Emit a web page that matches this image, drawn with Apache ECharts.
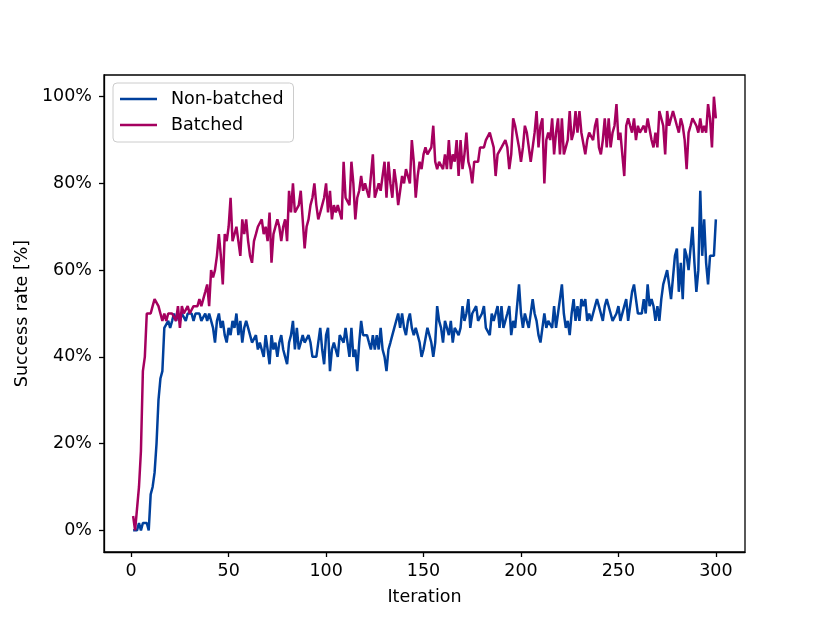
<!DOCTYPE html>
<html>
<head>
<meta charset="utf-8">
<script src="https://cdn.jsdelivr.net/npm/echarts@6/dist/echarts.min.js"></script>
<style>
  html, body { margin: 0; padding: 0; background: #fff; }
  #chart { width: 830px; height: 622px; }
</style>
</head>
<body>
<div id="chart"></div>
<script>
// success rate per iteration (%)
var batched = [
    3.3, 0, 5, 10, 18.3, 36.7, 40, 50, 50, 50,
    51.7, 53.3, 53.3, 51.7, 50, 48.3, 50, 48.3, 50, 50,
    50, 50, 48.3, 51.7, 46.7, 51.7, 50, 50, 51.7, 50,
    50, 51.7, 51.7, 51.7, 53.3, 51.7, 51.7, 55, 56.7, 51.7,
    60, 58.3, 60, 63.3, 68.3, 63.3, 56.7, 68.3, 66.7, 70,
    76.7, 66.7, 68.3, 70, 66.7, 63.3, 71.7, 68.3, 71.7, 66.7,
    63.3, 61.7, 66.7, 68.3, 70, 70, 71.7, 68.3, 70, 66.7,
    73.3, 61.7, 68.3, 68.3, 71.7, 70, 66.7, 70, 71.7, 66.7,
    78.3, 73.3, 80, 73.3, 73.3, 75, 78.3, 71.7, 65, 70,
    71.7, 75, 76.7, 80, 75, 71.7, 73.3, 75, 76.7, 80,
    73.3, 78.3, 71.7, 75, 73.3, 75, 73.3, 71.7, 85, 76.7,
    76.7, 75, 85, 80, 71.7, 76.7, 78.3, 81.7, 78.3, 80,
    78.3, 76.7, 76.7, 86.7, 76.7, 78.3, 80, 78.3, 81.7, 85,
    76.7, 85, 80, 76.7, 83.3, 80, 75, 78.3, 81.7, 80,
    83.3, 81.7, 80, 90, 85, 76.7, 81.7, 85, 83.3, 86.7,
    88.3, 86.7, 86.7, 88.3, 93.3, 85, 83.3, 85, 85, 83.3,
    86.7, 83.3, 90, 83.3, 86.7, 85, 90, 81.7, 90, 83.3,
    86.7, 91.7, 85, 83.3, 80, 85, 85, 85, 88.3, 88.3,
    88.3, 90, 90, 91.7, 90, 88.3, 81.7, 86.7, 86.7, 88.3,
    88.3, 90, 88.3, 83.3, 86.7, 95, 93.3, 93.3, 88.3, 85,
    88.3, 93.3, 91.7, 91.7, 85, 88.3, 91.7, 96.7, 88.3, 93.3,
    95, 80, 90, 91.7, 90, 95, 86.7, 91.7, 95, 86.7,
    95, 86.7, 88.3, 90, 96.7, 90, 91.7, 96.7, 91.7, 96.7,
    91.7, 91.7, 86.7, 90, 91.7, 91.7, 90, 93.3, 95, 88.3,
    86.7, 90, 95, 88.3, 95, 88.3, 91.7, 93.3, 98.3, 90,
    91.7, 91.7, 81.7, 93.3, 95, 93.3, 91.7, 95, 90, 93.3,
    91.7, 91.7, 93.3, 91.7, 95, 95, 90, 88.3, 91.7, 88.3,
    96.7, 96.7, 93.3, 86.7, 96.7, 93.3, 93.3, 96.7, 95, 93.3,
    91.7, 95, 93.3, 90, 83.3, 91.7, 93.3, 95, 95, 93.3,
    91.7, 95, 91.7, 93.3, 91.7, 98.3, 95, 88.3, 100, 95
];
var nonBatched = [
    0, 0, 0, 1.7, 0, 1.7, 1.7, 1.7, 0, 8.3,
    10, 13.3, 20, 30, 35, 36.7, 46.7, 46.7, 48.3, 46.7,
    48.3, 50, 48.3, 50, 48.3, 50, 50, 48.3, 50, 50,
    50, 48.3, 50, 50, 50, 48.3, 48.3, 50, 48.3, 50,
    50, 46.7, 43.3, 48.3, 50, 46.7, 48.3, 45, 43.3, 46.7,
    45, 48.3, 46.7, 50, 45, 48.3, 43.3, 46.7, 48.3, 46.7,
    45, 43.3, 43.3, 45, 41.7, 43.3, 43.3, 40, 45, 41.7,
    38.3, 45, 41.7, 43.3, 40, 43.3, 45, 41.7, 40, 38.3,
    43.3, 45, 48.3, 41.7, 46.7, 41.7, 43.3, 45, 43.3, 43.3,
    45, 43.3, 40, 40, 40, 40, 46.7, 41.7, 38.3, 45,
    46.7, 36.7, 41.7, 43.3, 43.3, 40, 45, 45, 43.3, 46.7,
    43.3, 40, 46.7, 40, 41.7, 36.7, 43.3, 48.3, 45, 45,
    45, 43.3, 41.7, 45, 41.7, 45, 41.7, 46.7, 41.7, 40,
    36.7, 41.7, 43.3, 45, 46.7, 46.7, 50, 46.7, 50, 46.7,
    45, 48.3, 50, 46.7, 45, 46.7, 45, 43.3, 40, 41.7,
    41.7, 46.7, 46.7, 43.3, 40, 43.3, 51.7, 48.3, 46.7, 43.3,
    48.3, 46.7, 45, 48.3, 43.3, 46.7, 46.7, 45, 46.7, 51.7,
    48.3, 50, 53.3, 46.7, 50, 50, 51.7, 48.3, 48.3, 50,
    51.7, 46.7, 46.7, 45, 50, 48.3, 50, 51.7, 46.7, 51.7,
    46.7, 46.7, 50, 51.7, 45, 48.3, 46.7, 46.7, 56.7, 50,
    46.7, 50, 48.3, 46.7, 46.7, 53.3, 50, 48.3, 45, 43.3,
    46.7, 50, 46.7, 48.3, 48.3, 46.7, 51.7, 46.7, 50, 50,
    56.7, 50, 46.7, 48.3, 45, 50, 53.3, 48.3, 51.7, 48.3,
    53.3, 51.7, 53.3, 48.3, 50, 48.3, 50, 51.7, 53.3, 51.7,
    50, 48.3, 51.7, 53.3, 53.3, 50, 48.3, 48.3, 50, 51.7,
    48.3, 48.3, 51.7, 53.3, 48.3, 51.7, 55, 56.7, 53.3, 50,
    50, 50, 53.3, 50, 56.7, 51.7, 53.3, 51.7, 48.3, 51.7,
    48.3, 53.3, 56.7, 56.7, 60, 56.7, 53.3, 58.3, 63.3, 65,
    55, 61.7, 53.3, 65, 63.3, 60, 60, 70, 61.7, 55,
    60, 78.3, 63.3, 71.7, 61.7, 56.7, 63.3, 63.3, 63.3, 71.7
];
var xTicks = [0, 50, 100, 150, 200, 250, 300];
var yTicks = [0, 20, 40, 60, 80, 100];

// iteration numbers start at 1
function toPairs(arr) {
    return arr.map(function (v, i) { return [i + 1, v]; });
}

var font = 'DejaVu Sans';
var chart = echarts.init(document.getElementById('chart'), null, {renderer: 'canvas'});

var option = {
    animation: false,
    backgroundColor: '#fff',
    textStyle: {fontFamily: font},
    grid: {
        left: 104, right: 85, top: 75, bottom: 70,
        show: true,
        borderColor: '#000',
        borderWidth: 1.3,
        backgroundColor: 'transparent'
    },
    legend: {
        left: 113, top: 83,
        orient: 'vertical',
        data: ['Non-batched', 'Batched'],
        icon: 'rect',
        itemWidth: 37,
        itemHeight: 2.6,
        itemGap: 6,
        padding: [6, 10, 7, 7],
        borderColor: '#cccccc',
        borderWidth: 1,
        borderRadius: 4,
        backgroundColor: 'rgba(255,255,255,0.85)',
        textStyle: {
            fontFamily: font, fontSize: 17.5, color: '#000',
            lineHeight: 20, padding: [0, 0, 0, 9]
        }
    },
    xAxis: {
        type: 'value',
        min: -13.95,
        max: 314.95,
        name: 'Iteration',
        nameLocation: 'middle',
        nameGap: 36,
        nameTextStyle: {fontFamily: font, fontSize: 17.5, color: '#000'},
        splitLine: {show: false},
        axisLine: {show: true, onZero: false, lineStyle: {color: '#000', width: 1.3}},
        axisTick: {
            show: true, length: 5, customValues: xTicks,
            lineStyle: {color: '#000', width: 1.3}
        },
        axisLabel: {
            customValues: xTicks, margin: 10,
            fontFamily: font, fontSize: 17.5, color: '#000'
        }
    },
    yAxis: {
        type: 'value',
        min: -5,
        max: 105,
        name: 'Success rate [%]',
        nameLocation: 'middle',
        nameGap: 70,
        nameTextStyle: {fontFamily: font, fontSize: 17.5, color: '#000'},
        splitLine: {show: false},
        axisLine: {show: true, onZero: false, lineStyle: {color: '#000', width: 1.3}},
        axisTick: {
            show: true, length: 5, customValues: yTicks,
            lineStyle: {color: '#000', width: 1.3}
        },
        axisLabel: {
            customValues: yTicks, margin: 12,
            fontFamily: font, fontSize: 17.5, color: '#000',
            padding: [3, 0, 0, 0],
            formatter: function (v) { return v + '%'; }
        }
    },
    series: [
        {
            name: 'Non-batched',
            type: 'line',
            data: toPairs(nonBatched),
            showSymbol: false,
            color: '#00409c',
            lineStyle: {width: 2.5, color: '#00409c'}
        },
        {
            name: 'Batched',
            type: 'line',
            data: toPairs(batched),
            showSymbol: false,
            color: '#a5005f',
            lineStyle: {width: 2.5, color: '#a5005f'}
        }
    ]
};
chart.setOption(option);
</script>
</body>
</html>
